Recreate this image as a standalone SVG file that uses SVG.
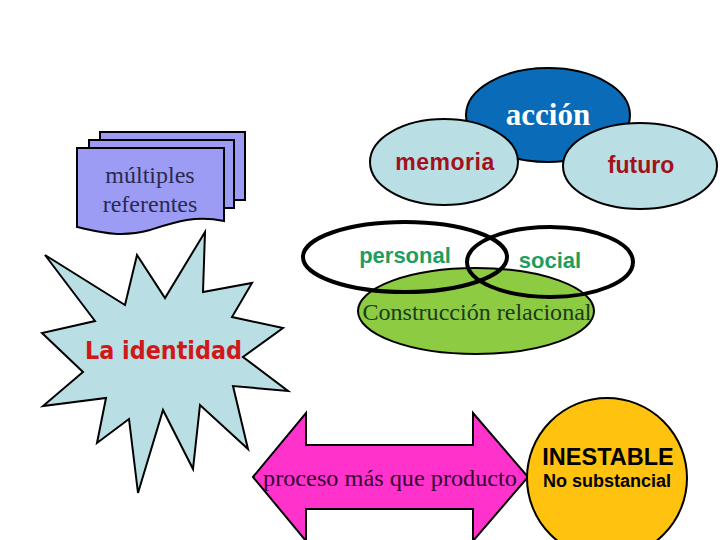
<svg xmlns="http://www.w3.org/2000/svg" width="720" height="540" viewBox="0 0 720 540">
<style>
.ol{stroke:#000;stroke-width:2}
.doc{fill:#9C9CF5;stroke:#000;stroke-width:2}
.lb{fill:#B9DEE3;stroke:#000;stroke-width:2}
.serif{font-family:"Liberation Serif","Times New Roman",serif}
.sans{font-family:"Liberation Sans",Arial,sans-serif;font-weight:bold}
.red{fill:#A3121C}
.grn{fill:#1E9E5E}
.ring{fill:none;stroke:#000;stroke-width:4}
</style>
<rect width="720" height="540" fill="#fff"/>
<g id="connectors"/>
<g id="referentes">
<rect class="doc" x="100" y="132" width="145" height="68"/>
<rect class="doc" x="89" y="140" width="145" height="68"/>
<path class="doc" d="M77,148 H224 V221 C195,215 175,222 150,230 C120,238 100,232 77,227 Z"/>
<text class="serif" x="150" y="183" font-size="24" text-anchor="middle" fill="#2A2A50">múltiples</text>
<text class="serif" x="150" y="212" font-size="24" text-anchor="middle" fill="#2A2A50">referentes</text>
</g>
<g id="identidad">
<polygon class="lb" points="45,255 125,305 137,255 165,298 205,232 203,292 252,283 232,317 283,328 243,357 288,391 233,386 248,449 200,405 193,469 163,410 138,493 129,419 97,443 106,398 43,406 83,372 42,333 95,321"/>
<text x="85" y="359" font-family="'DejaVu Sans',Verdana,sans-serif" font-size="24" font-weight="600" fill="#D01818" textLength="157" lengthAdjust="spacingAndGlyphs">La identidad</text>
</g>
<g id="accion">
<ellipse cx="548" cy="115" rx="82" ry="47" fill="#0A6BB8" class="ol"/>
<text class="serif" x="548" y="125" font-size="31" font-weight="bold" text-anchor="middle" fill="#fff">acción</text>
</g>
<g id="memoria">
<ellipse class="lb" cx="444" cy="162" rx="74" ry="43"/>
<text class="sans red" x="445" y="170" font-size="23" text-anchor="middle" letter-spacing="0.5">memoria</text>
</g>
<g id="futuro">
<ellipse class="lb" cx="640" cy="166" rx="77" ry="43"/>
<text class="sans red" x="641" y="173" font-size="23" text-anchor="middle">futuro</text>
</g>
<g id="construccion">
<ellipse cx="476" cy="311" rx="118" ry="43" fill="#8CCB42" class="ol"/>
<text class="serif" x="477" y="320" font-size="23" text-anchor="middle" fill="#1A3A1A" textLength="229" lengthAdjust="spacingAndGlyphs">Construcción relacional</text>
</g>
<g id="personal">
<ellipse class="ring" cx="405" cy="257" rx="102" ry="35"/>
<text class="sans grn" x="405" y="263" font-size="22" text-anchor="middle">personal</text>
</g>
<g id="social">
<ellipse class="ring" cx="550" cy="262" rx="83" ry="35"/>
<text class="sans grn" x="550" y="268" font-size="22" text-anchor="middle">social</text>
</g>
<g id="proceso">
<polygon points="253,477 306,413 306,445 473,445 473,413 528,477 473,541 473,509 306,509 306,541" fill="#FF33CC" class="ol"/>
<text class="serif" x="390" y="486" font-size="23" text-anchor="middle" fill="#330033" textLength="254" lengthAdjust="spacingAndGlyphs">proceso más que producto</text>
</g>
<g id="inestable">
<circle cx="607" cy="478" r="80" fill="#FFC20E" class="ol"/>
<text class="sans" x="608" y="465" font-size="23.5" text-anchor="middle" fill="#000">INESTABLE</text>
<text class="sans" x="607" y="487" font-size="18" text-anchor="middle" fill="#000">No substancial</text>
</g>
</svg>
